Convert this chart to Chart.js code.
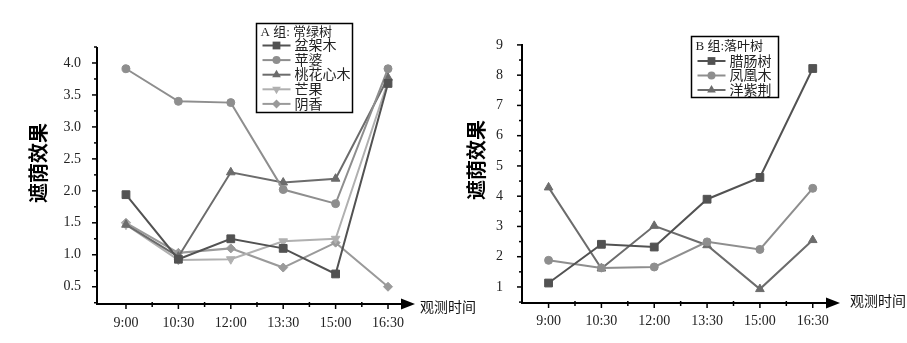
<!DOCTYPE html>
<html>
<head>
<meta charset="utf-8">
<script src="https://cdn.jsdelivr.net/npm/chart.js@4/dist/chart.umd.min.js"></script>
<style>
body { margin: 0; background: #fff; }
#wrap { position: relative; width: 907px; height: 343px; overflow: hidden; }
#chartA { position: absolute; left: 0; top: 0; }
#chartB { position: absolute; left: 450px; top: 0; }
</style>
</head>
<body>
<div id="wrap">
<canvas id="chartA" width="490" height="343"></canvas>
<canvas id="chartB" width="457" height="343"></canvas>
</div>
<script>
var times = ['9:00', '10:30', '12:00', '13:30', '15:00', '16:30'];

// A 组: 常绿树
var penjiamu = [1.94, 0.93, 1.25, 1.10, 0.70, 3.68];
var pingpo = [3.91, 3.40, 3.38, 2.02, 1.80, 3.91];
var taohuaxinmu = [1.47, 0.97, 2.29, 2.13, 2.19, 3.77];
var mangguo = [1.47, 0.92, 0.93, 1.21, 1.25, 3.71];
var yinxiang = [1.50, 1.03, 1.10, 0.80, 1.19, 0.50];
var ticksA = [0.5, 1.0, 1.5, 2.0, 2.5, 3.0, 3.5, 4.0];

// B 组: 落叶树
var lachangshu = [1.13, 2.41, 2.32, 3.90, 4.62, 8.22];
var fenghuangmu = [1.88, 1.63, 1.66, 2.49, 2.24, 4.26];
var yangzijing = [4.29, 1.61, 3.02, 2.38, 0.93, 2.55];
var ticksB = [1, 2, 3, 4, 5, 6, 7, 8, 9];

var serif = '"Liberation Serif", "Noto Sans CJK SC", serif';
var cjkBold = 'bold 20px "Noto Sans CJK SC", sans-serif';

function points(values) {
    return values.map(function (v, i) { return { x: i, y: v }; });
}

function series(label, values, color, style, radius, rotation) {
    return {
        label: label,
        data: points(values),
        borderColor: color,
        backgroundColor: color,
        borderWidth: 2,
        pointStyle: style,
        pointRadius: radius,
        pointRotation: rotation || 0,
        pointBorderWidth: 1,
        pointBorderColor: color,
        pointBackgroundColor: color,
        tension: 0,
        fill: false
    };
}

function marker(ctx, style, r, rot, x, y, color) {
    ctx.save();
    ctx.translate(x, y);
    ctx.rotate((rot || 0) * Math.PI / 180);
    ctx.fillStyle = color;
    ctx.beginPath();
    if (style === 'rect') {
        var s = r * Math.SQRT1_2;
        ctx.rect(-s, -s, 2 * s, 2 * s);
    } else if (style === 'circle') {
        ctx.arc(0, 0, r, 0, Math.PI * 2);
    } else if (style === 'triangle') {
        ctx.moveTo(0, -r);
        ctx.lineTo(r * 0.87, r * 0.5);
        ctx.lineTo(-r * 0.87, r * 0.5);
        ctx.closePath();
    } else if (style === 'rectRot') {
        ctx.moveTo(0, -r);
        ctx.lineTo(r, 0);
        ctx.lineTo(0, r);
        ctx.lineTo(-r, 0);
        ctx.closePath();
    }
    ctx.fill();
    ctx.restore();
}

// axes with arrow, minor ticks, titles and boxed legend
function decor(o) {
    return {
        id: 'decor',
        afterDraw: function (chart) {
            var ctx = chart.ctx;
            var a = chart.chartArea;
            var xs = chart.scales.x, ys = chart.scales.y;
            ctx.save();
            ctx.strokeStyle = '#000';
            ctx.fillStyle = '#000';
            ctx.lineWidth = 2;

            // y axis and ticks
            ctx.beginPath();
            ctx.moveTo(a.left, a.top);
            ctx.lineTo(a.left, a.bottom + 1);
            ctx.stroke();
            var step = o.yTicks[1] - o.yTicks[0];
            ctx.lineWidth = 1.5;
            o.yTicks.forEach(function (v) {
                var py = ys.getPixelForValue(v);
                ctx.beginPath();
                ctx.moveTo(a.left - 5, py);
                ctx.lineTo(a.left, py);
                ctx.stroke();
            });
            for (var m = o.yTicks[0] - step / 2; m <= ys.max; m += step) {
                if (m < ys.min) continue;
                var my = ys.getPixelForValue(m);
                ctx.beginPath();
                ctx.moveTo(a.left - 3, my);
                ctx.lineTo(a.left, my);
                ctx.stroke();
            }

            // x axis with arrow head
            ctx.lineWidth = 2;
            ctx.beginPath();
            ctx.moveTo(a.left - 1, a.bottom);
            ctx.lineTo(a.right - 12, a.bottom);
            ctx.stroke();
            ctx.beginPath();
            ctx.moveTo(a.right - 14, a.bottom - 5.5);
            ctx.lineTo(a.right, a.bottom);
            ctx.lineTo(a.right - 14, a.bottom + 5.5);
            ctx.closePath();
            ctx.fill();
            ctx.lineWidth = 1.5;
            times.forEach(function (t, i) {
                var px = xs.getPixelForValue(i);
                ctx.beginPath();
                ctx.moveTo(px, a.bottom);
                ctx.lineTo(px, a.bottom + 5);
                ctx.stroke();
                var mx = xs.getPixelForValue(i + 0.5);
                if (i < times.length - 1) {
                    ctx.beginPath();
                    ctx.moveTo(mx, a.bottom - 2);
                    ctx.lineTo(mx, a.bottom + 3);
                    ctx.stroke();
                }
            });

            // axis titles
            ctx.save();
            ctx.translate(o.yTitleX, o.yTitleY);
            ctx.rotate(-Math.PI / 2);
            ctx.font = cjkBold;
            ctx.textAlign = 'center';
            ctx.textBaseline = 'middle';
            ctx.fillText('遮荫效果', 0, 0);
            ctx.restore();
            ctx.font = '14px ' + serif;
            ctx.textAlign = 'left';
            ctx.textBaseline = 'middle';
            ctx.fillStyle = '#111';
            ctx.fillText('观测时间', o.xTitleX, o.xTitleY);

            // legend box
            var L = o.legend;
            ctx.fillStyle = '#fff';
            ctx.fillRect(L.x, L.y, L.w, L.h);
            ctx.strokeStyle = '#000';
            ctx.lineWidth = 1.5;
            ctx.strokeRect(L.x, L.y, L.w, L.h);
            ctx.fillStyle = '#222';
            ctx.font = '13px ' + serif;
            ctx.fillText(L.title, L.x + 4, L.titleY);
            chart.data.datasets.forEach(function (ds, i) {
                var ly = L.firstY + i * L.step;
                ctx.strokeStyle = ds.borderColor;
                ctx.lineWidth = 2;
                ctx.beginPath();
                ctx.moveTo(L.x + 6, ly);
                ctx.lineTo(L.x + 34, ly);
                ctx.stroke();
                marker(ctx, ds.pointStyle, ds.pointRadius, ds.pointRotation, L.x + 20, ly, ds.borderColor);
                ctx.fillStyle = '#222';
                ctx.font = '14px ' + serif;
                ctx.fillText(ds.label, L.x + 38, ly + 1);
            });
            ctx.restore();
        }
    };
}

function makeChart(id, datasets, o) {
    return new Chart(document.getElementById(id), {
        type: 'line',
        data: { datasets: datasets },
        options: {
            responsive: false,
            animation: false,
            devicePixelRatio: 1,
            layout: { padding: o.padding },
            plugins: { legend: { display: false }, tooltip: { enabled: false } },
            scales: {
                x: {
                    type: 'linear',
                    min: o.xMin,
                    max: o.xMax,
                    grid: { display: false },
                    border: { display: false },
                    afterFit: function (s) { s.height = o.xHeight; },
                    afterBuildTicks: function (s) {
                        s.ticks = times.map(function (t, i) { return { value: i }; });
                    },
                    ticks: {
                        autoSkip: false,
                        maxRotation: 0,
                        padding: o.xPad,
                        color: '#222',
                        font: { family: serif, size: 14 },
                        callback: function (v) { return times[v]; }
                    }
                },
                y: {
                    min: o.yMin,
                    max: o.yMax,
                    grid: { display: false },
                    border: { display: false },
                    afterFit: function (s) { s.width = o.yWidth; },
                    afterBuildTicks: function (s) {
                        s.ticks = o.yTicks.map(function (v) { return { value: v }; });
                    },
                    ticks: {
                        padding: o.yPad,
                        color: '#222',
                        font: { family: serif, size: 14 },
                        callback: function (v) { return o.yFmt(v); }
                    }
                }
            }
        },
        plugins: [decor(o)]
    });
}

makeChart('chartA', [
    series('盆架木', penjiamu, '#525252', 'rect', 5.5),
    series('苹婆', pingpo, '#8e8e8e', 'circle', 4),
    series('桃花心木', taohuaxinmu, '#6c6c6c', 'triangle', 5),
    series('芒果', mangguo, '#b0b0b0', 'triangle', 5, 180),
    series('阴香', yinxiang, '#9a9a9a', 'rectRot', 4.5)
], {
    padding: { left: 0, right: 75, top: 47, bottom: 0 },
    xMin: -0.553, xMax: 5.515, yMin: 0.23, yMax: 4.25,
    xHeight: 39, yWidth: 97, xPad: 3, yPad: 8,
    yTicks: ticksA,
    yFmt: function (v) { return v.toFixed(1); },
    yTitleX: 38, yTitleY: 163,
    xTitleX: 420, xTitleY: 308,
    legend: { x: 256.5, y: 23.5, w: 96, h: 89, title: 'A 组: 常绿树', titleY: 32.5, firstY: 45.5, step: 14.6 }
});

makeChart('chartB', [
    series('腊肠树', lachangshu, '#525252', 'rect', 5.5),
    series('凤凰木', fenghuangmu, '#8e8e8e', 'circle', 4),
    series('洋紫荆', yangzijing, '#6c6c6c', 'triangle', 5)
], {
    padding: { left: 0, right: 67, top: 44, bottom: 0 },
    xMin: -0.503, xMax: 5.516, yMin: 0.47, yMax: 9.03,
    xHeight: 40, yWidth: 72, xPad: 2, yPad: 11,
    yTicks: ticksB,
    yFmt: function (v) { return String(v); },
    yTitleX: 26, yTitleY: 160,
    xTitleX: 400, xTitleY: 302,
    legend: { x: 241.5, y: 36.5, w: 87, h: 61, title: 'B 组:落叶树', titleY: 46.5, firstY: 61, step: 14.5 }
});
</script>
</body>
</html>
